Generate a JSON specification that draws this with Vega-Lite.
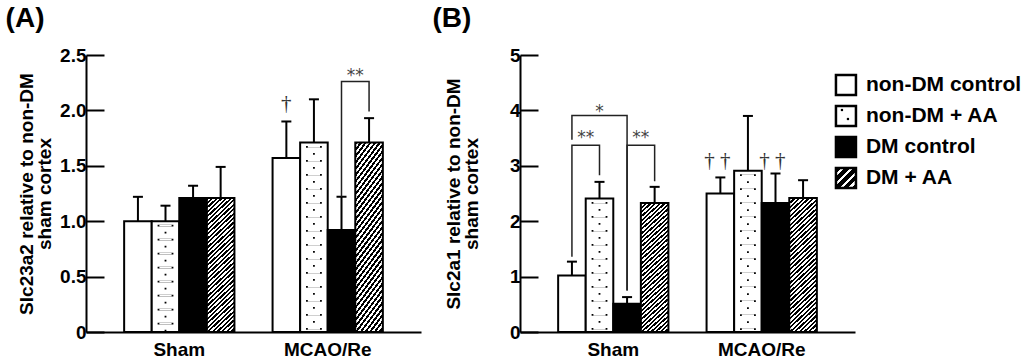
{
  "$schema": "https://vega.github.io/schema/vega-lite/v6.json",
  "background": "white",
  "padding": {"left": 5, "top": 5, "right": 5, "bottom": 0},
  "datasets": {
    "bars": [
      {"panel": "A", "group": "Sham", "series": "non-DM control", "mean": 1.0, "upper": 1.22},
      {"panel": "A", "group": "Sham", "series": "non-DM + AA", "mean": 1.0, "upper": 1.14},
      {"panel": "A", "group": "Sham", "series": "DM control", "mean": 1.21, "upper": 1.32},
      {"panel": "A", "group": "Sham", "series": "DM + AA", "mean": 1.21, "upper": 1.49},
      {"panel": "A", "group": "MCAO/Re", "series": "non-DM control", "mean": 1.57, "upper": 1.90},
      {"panel": "A", "group": "MCAO/Re", "series": "non-DM + AA", "mean": 1.71, "upper": 2.10},
      {"panel": "A", "group": "MCAO/Re", "series": "DM control", "mean": 0.92, "upper": 1.22},
      {"panel": "A", "group": "MCAO/Re", "series": "DM + AA", "mean": 1.71, "upper": 1.93},
      {"panel": "B", "group": "Sham", "series": "non-DM control", "mean": 1.02, "upper": 1.27},
      {"panel": "B", "group": "Sham", "series": "non-DM + AA", "mean": 2.41, "upper": 2.71},
      {"panel": "B", "group": "Sham", "series": "DM control", "mean": 0.51, "upper": 0.63},
      {"panel": "B", "group": "Sham", "series": "DM + AA", "mean": 2.33, "upper": 2.62},
      {"panel": "B", "group": "MCAO/Re", "series": "non-DM control", "mean": 2.50, "upper": 2.79},
      {"panel": "B", "group": "MCAO/Re", "series": "non-DM + AA", "mean": 2.91, "upper": 3.90},
      {"panel": "B", "group": "MCAO/Re", "series": "DM control", "mean": 2.33, "upper": 2.86},
      {"panel": "B", "group": "MCAO/Re", "series": "DM + AA", "mean": 2.42, "upper": 2.74}
    ],
    "brackets": [
      {"panel": "A", "id": "a1", "k": 1, "group": "MCAO/Re", "series": "DM control", "y": 1.22},
      {"panel": "A", "id": "a1", "k": 2, "group": "MCAO/Re", "series": "DM control", "y": 2.26},
      {"panel": "A", "id": "a1", "k": 3, "group": "MCAO/Re", "series": "DM + AA", "y": 2.26},
      {"panel": "A", "id": "a1", "k": 4, "group": "MCAO/Re", "series": "DM + AA", "y": 1.99},
      {"panel": "B", "id": "b1", "k": 1, "group": "Sham", "series": "non-DM control", "y": 1.36},
      {"panel": "B", "id": "b1", "k": 2, "group": "Sham", "series": "non-DM control", "y": 3.37},
      {"panel": "B", "id": "b1", "k": 3, "group": "Sham", "series": "non-DM + AA", "y": 3.37},
      {"panel": "B", "id": "b1", "k": 4, "group": "Sham", "series": "non-DM + AA", "y": 2.83},
      {"panel": "B", "id": "b2", "k": 1, "group": "Sham", "series": "non-DM control", "y": 3.47},
      {"panel": "B", "id": "b2", "k": 2, "group": "Sham", "series": "non-DM control", "y": 3.91},
      {"panel": "B", "id": "b2", "k": 3, "group": "Sham", "series": "DM control", "y": 3.91},
      {"panel": "B", "id": "b2", "k": 4, "group": "Sham", "series": "DM control", "y": 0.75},
      {"panel": "B", "id": "b3", "k": 1, "group": "Sham", "series": "DM control", "y": 0.75},
      {"panel": "B", "id": "b3", "k": 2, "group": "Sham", "series": "DM control", "y": 3.37},
      {"panel": "B", "id": "b3", "k": 3, "group": "Sham", "series": "DM + AA", "y": 3.37},
      {"panel": "B", "id": "b3", "k": 4, "group": "Sham", "series": "DM + AA", "y": 2.72}
    ],
    "notes": [
      {"panel": "A", "group": "MCAO/Re", "series": "non-DM control", "y": 2.0, "label": "†"},
      {"panel": "A", "group": "MCAO/Re", "series": "DM control", "y": 2.265, "label": "**"},
      {"panel": "B", "group": "Sham", "series": "non-DM control", "y": 3.41, "label": "**"},
      {"panel": "B", "group": "Sham", "series": "DM control", "y": 3.41, "label": "**"},
      {"panel": "B", "group": "Sham", "series": "non-DM + AA", "y": 3.88, "label": "*"},
      {"panel": "B", "group": "MCAO/Re", "series": "non-DM control", "y": 2.98, "label": "† †"},
      {"panel": "B", "group": "MCAO/Re", "series": "DM control", "y": 2.98, "label": "† †"}
    ],
    "legend": [
      {"series": "non-DM control"},
      {"series": "non-DM + AA"},
      {"series": "DM control"},
      {"series": "DM + AA"}
    ]
  },
  "config": {
    "view": {"stroke": null},
    "font": "Liberation Sans",
    "axis": {
      "domainColor": "black", "domainWidth": 2, "tickColor": "black", "tickWidth": 2,
      "labelColor": "black", "titleColor": "black", "labelFont": "Liberation Sans", "titleFont": "Liberation Sans",
      "labelFontWeight": "bold", "titleFontWeight": "bold", "labelFontSize": 19, "titleFontSize": 19, "grid": false
    },
    "axisY": {"tickSize": -18, "labelPadding": 18, "titlePadding": 5, "titleLineHeight": 18},
    "axisX": {"ticks": false, "labelPadding": 8, "labelAngle": 0}
  },
  "spacing": 11,
  "hconcat": [
    {
      "title": {"text": "(A)", "anchor": "start", "frame": "bounds", "fontSize": 28, "fontWeight": "bold", "font": "Liberation Sans", "color": "black", "dx": -12, "offset": 13},
      "width": 335,
      "height": 277,
      "encoding": {
        "x": {"field": "group", "type": "nominal", "scale": {"domain": ["Sham", "MCAO/Re"], "paddingInner": 0.257, "paddingOuter": 0.257}, "axis": {"title": null}},
        "xOffset": {"field": "series", "type": "nominal", "scale": {"domain": ["non-DM control", "non-DM + AA", "DM control", "DM + AA"], "paddingInner": 0, "paddingOuter": 0}}
      },
      "layer": [
        {
          "data": {"name": "bars"},
          "transform": [{"filter": "datum.panel == 'A' && (datum.series == 'non-DM control' || datum.series == 'non-DM + AA')"}],
          "mark": {"type": "bar", "stroke": "black", "strokeWidth": 2, "fill": "white"},
          "encoding": {
            "y": {"field": "mean", "type": "quantitative", "scale": {"domain": [0, 2.5], "nice": false},
                  "axis": {"title": ["Slc23a2 relative to non-DM", "sham cortex"], "values": [0, 0.5, 1, 1.5, 2, 2.5], "labelExpr": "datum.value == 0 ? '0' : format(datum.value, '.1f')"}}
          }
        },
        {
          "data": {"name": "bars"},
          "transform": [{"filter": "datum.panel == 'A' && datum.series == 'DM control'"}],
          "mark": {"type": "bar", "stroke": "black", "strokeWidth": 2, "fill": "black"},
          "encoding": {"y": {"field": "mean", "type": "quantitative"}}
        },
        {
          "data": {"name": "bars"},
          "transform": [{"filter": "datum.panel == 'A' && datum.series == 'DM + AA'"}],
          "mark": {"type": "bar", "stroke": "black", "strokeWidth": 2,
            "fill": {"gradient": "linear", "x1": 0, "y1": 0, "x2": 0.226, "y2": 1.152, "stops": [
{"offset":0,"color":"#000"},
{"offset":0.0139,"color":"#000"},{"offset":0.0139,"color":"#fff"},
{"offset":0.0278,"color":"#fff"},{"offset":0.0278,"color":"#000"},
{"offset":0.0417,"color":"#000"},{"offset":0.0417,"color":"#fff"},
{"offset":0.0556,"color":"#fff"},{"offset":0.0556,"color":"#000"},
{"offset":0.0694,"color":"#000"},{"offset":0.0694,"color":"#fff"},
{"offset":0.0833,"color":"#fff"},{"offset":0.0833,"color":"#000"},
{"offset":0.0972,"color":"#000"},{"offset":0.0972,"color":"#fff"},
{"offset":0.1111,"color":"#fff"},{"offset":0.1111,"color":"#000"},
{"offset":0.125,"color":"#000"},{"offset":0.125,"color":"#fff"},
{"offset":0.1389,"color":"#fff"},{"offset":0.1389,"color":"#000"},
{"offset":0.1528,"color":"#000"},{"offset":0.1528,"color":"#fff"},
{"offset":0.1667,"color":"#fff"},{"offset":0.1667,"color":"#000"},
{"offset":0.1806,"color":"#000"},{"offset":0.1806,"color":"#fff"},
{"offset":0.1944,"color":"#fff"},{"offset":0.1944,"color":"#000"},
{"offset":0.2083,"color":"#000"},{"offset":0.2083,"color":"#fff"},
{"offset":0.2222,"color":"#fff"},{"offset":0.2222,"color":"#000"},
{"offset":0.2361,"color":"#000"},{"offset":0.2361,"color":"#fff"},
{"offset":0.25,"color":"#fff"},{"offset":0.25,"color":"#000"},
{"offset":0.2639,"color":"#000"},{"offset":0.2639,"color":"#fff"},
{"offset":0.2778,"color":"#fff"},{"offset":0.2778,"color":"#000"},
{"offset":0.2917,"color":"#000"},{"offset":0.2917,"color":"#fff"},
{"offset":0.3056,"color":"#fff"},{"offset":0.3056,"color":"#000"},
{"offset":0.3194,"color":"#000"},{"offset":0.3194,"color":"#fff"},
{"offset":0.3333,"color":"#fff"},{"offset":0.3333,"color":"#000"},
{"offset":0.3472,"color":"#000"},{"offset":0.3472,"color":"#fff"},
{"offset":0.3611,"color":"#fff"},{"offset":0.3611,"color":"#000"},
{"offset":0.375,"color":"#000"},{"offset":0.375,"color":"#fff"},
{"offset":0.3889,"color":"#fff"},{"offset":0.3889,"color":"#000"},
{"offset":0.4028,"color":"#000"},{"offset":0.4028,"color":"#fff"},
{"offset":0.4167,"color":"#fff"},{"offset":0.4167,"color":"#000"},
{"offset":0.4306,"color":"#000"},{"offset":0.4306,"color":"#fff"},
{"offset":0.4444,"color":"#fff"},{"offset":0.4444,"color":"#000"},
{"offset":0.4583,"color":"#000"},{"offset":0.4583,"color":"#fff"},
{"offset":0.4722,"color":"#fff"},{"offset":0.4722,"color":"#000"},
{"offset":0.4861,"color":"#000"},{"offset":0.4861,"color":"#fff"},
{"offset":0.5,"color":"#fff"},{"offset":0.5,"color":"#000"},
{"offset":0.5139,"color":"#000"},{"offset":0.5139,"color":"#fff"},
{"offset":0.5278,"color":"#fff"},{"offset":0.5278,"color":"#000"},
{"offset":0.5417,"color":"#000"},{"offset":0.5417,"color":"#fff"},
{"offset":0.5556,"color":"#fff"},{"offset":0.5556,"color":"#000"},
{"offset":0.5694,"color":"#000"},{"offset":0.5694,"color":"#fff"},
{"offset":0.5833,"color":"#fff"},{"offset":0.5833,"color":"#000"},
{"offset":0.5972,"color":"#000"},{"offset":0.5972,"color":"#fff"},
{"offset":0.6111,"color":"#fff"},{"offset":0.6111,"color":"#000"},
{"offset":0.625,"color":"#000"},{"offset":0.625,"color":"#fff"},
{"offset":0.6389,"color":"#fff"},{"offset":0.6389,"color":"#000"},
{"offset":0.6528,"color":"#000"},{"offset":0.6528,"color":"#fff"},
{"offset":0.6667,"color":"#fff"},{"offset":0.6667,"color":"#000"},
{"offset":0.6806,"color":"#000"},{"offset":0.6806,"color":"#fff"},
{"offset":0.6944,"color":"#fff"},{"offset":0.6944,"color":"#000"},
{"offset":0.7083,"color":"#000"},{"offset":0.7083,"color":"#fff"},
{"offset":0.7222,"color":"#fff"},{"offset":0.7222,"color":"#000"},
{"offset":0.7361,"color":"#000"},{"offset":0.7361,"color":"#fff"},
{"offset":0.75,"color":"#fff"},{"offset":0.75,"color":"#000"},
{"offset":0.7639,"color":"#000"},{"offset":0.7639,"color":"#fff"},
{"offset":0.7778,"color":"#fff"},{"offset":0.7778,"color":"#000"},
{"offset":0.7917,"color":"#000"},{"offset":0.7917,"color":"#fff"},
{"offset":0.8056,"color":"#fff"},{"offset":0.8056,"color":"#000"},
{"offset":0.8194,"color":"#000"},{"offset":0.8194,"color":"#fff"},
{"offset":0.8333,"color":"#fff"},{"offset":0.8333,"color":"#000"},
{"offset":0.8472,"color":"#000"},{"offset":0.8472,"color":"#fff"},
{"offset":0.8611,"color":"#fff"},{"offset":0.8611,"color":"#000"},
{"offset":0.875,"color":"#000"},{"offset":0.875,"color":"#fff"},
{"offset":0.8889,"color":"#fff"},{"offset":0.8889,"color":"#000"},
{"offset":0.9028,"color":"#000"},{"offset":0.9028,"color":"#fff"},
{"offset":0.9167,"color":"#fff"},{"offset":0.9167,"color":"#000"},
{"offset":0.9306,"color":"#000"},{"offset":0.9306,"color":"#fff"},
{"offset":0.9444,"color":"#fff"},{"offset":0.9444,"color":"#000"},
{"offset":0.9583,"color":"#000"},{"offset":0.9583,"color":"#fff"},
{"offset":0.9722,"color":"#fff"},{"offset":0.9722,"color":"#000"},
{"offset":0.9861,"color":"#000"},{"offset":0.9861,"color":"#fff"},
{"offset":1,"color":"#fff"}]}},
          "encoding": {"y": {"field": "mean", "type": "quantitative"}}
        },
        {
          "data": {"name": "bars"},
          "transform": [{"filter": "datum.panel == 'A' && datum.series == 'non-DM + AA'"}],
          "mark": {"type": "rule", "color": "black", "strokeWidth": 15.8, "strokeDash": [1.8, 12.2], "strokeDashOffset": 10.5},
          "encoding": {"y": {"field": "mean", "type": "quantitative"}, "y2": {"datum": 0}}
        },
        {
          "data": {"name": "bars"},
          "transform": [{"filter": "datum.panel == 'A' && datum.series == 'non-DM + AA'"}],
          "mark": {"type": "rule", "color": "white", "strokeWidth": 12.2, "strokeDash": [1.8, 12.2], "strokeDashOffset": 10.5},
          "encoding": {"y": {"field": "mean", "type": "quantitative"}, "y2": {"datum": 0}}
        },
        {
          "data": {"name": "bars"},
          "transform": [{"filter": "datum.panel == 'A' && datum.series == 'non-DM + AA'"}],
          "mark": {"type": "rule", "color": "black", "strokeWidth": 1.8, "strokeDash": [1.8, 12.2], "strokeDashOffset": 3.5},
          "encoding": {"y": {"field": "mean", "type": "quantitative"}, "y2": {"datum": 0}}
        },
        {
          "data": {"name": "bars"},
          "transform": [{"filter": "datum.panel == 'A'"}],
          "mark": {"type": "rule", "color": "black", "strokeWidth": 2},
          "encoding": {"y": {"field": "mean", "type": "quantitative"}, "y2": {"field": "upper"}}
        },
        {
          "data": {"name": "bars"},
          "transform": [{"filter": "datum.panel == 'A'"}],
          "mark": {"type": "tick", "color": "black", "thickness": 2, "size": 10, "orient": "horizontal", "opacity": 1},
          "encoding": {"y": {"field": "upper", "type": "quantitative"}}
        },
        {
          "data": {"name": "brackets"},
          "transform": [{"filter": "datum.panel == 'A'"}],
          "mark": {"type": "line", "color": "#222", "strokeWidth": 1.5, "interpolate": "linear"},
          "encoding": {"y": {"field": "y", "type": "quantitative"}, "order": {"field": "k"}, "detail": {"field": "id"}}
        },
        {
          "data": {"name": "notes"},
          "transform": [{"filter": "datum.panel == 'A' && datum.label == '**'"}],
          "mark": {"type": "text", "font": "DejaVu Sans", "fontSize": 17, "color": "#444", "baseline": "alphabetic", "dx": 13.8},
          "encoding": {"y": {"field": "y", "type": "quantitative"}, "text": {"field": "label"}}
        },
        {
          "data": {"name": "notes"},
          "transform": [{"filter": "datum.panel == 'A' && indexof(datum.label, '†') >= 0"}],
          "mark": {"type": "text", "font": "Liberation Serif", "fontSize": 21, "color": "#333", "baseline": "alphabetic"},
          "encoding": {"y": {"field": "y", "type": "quantitative"}, "text": {"field": "label"}}
        }
      ]
    },
    {
      "title": {"text": "(B)", "anchor": "start", "frame": "bounds", "fontSize": 28, "fontWeight": "bold", "font": "Liberation Sans", "color": "black", "dx": -12, "offset": 13},
      "width": 335,
      "height": 277,
      "resolve": {"scale": {"x": "independent", "y": "independent"}},
      "layer": [
        {
          "encoding": {
            "x": {"field": "group", "type": "nominal", "scale": {"domain": ["Sham", "MCAO/Re"], "paddingInner": 0.257, "paddingOuter": 0.257}, "axis": {"title": null}},
            "xOffset": {"field": "series", "type": "nominal", "scale": {"domain": ["non-DM control", "non-DM + AA", "DM control", "DM + AA"], "paddingInner": 0, "paddingOuter": 0}}
          },
          "layer": [
            {
              "data": {"name": "bars"},
              "transform": [{"filter": "datum.panel == 'B' && (datum.series == 'non-DM control' || datum.series == 'non-DM + AA')"}],
              "mark": {"type": "bar", "stroke": "black", "strokeWidth": 2, "fill": "white"},
              "encoding": {
                "y": {"field": "mean", "type": "quantitative", "scale": {"domain": [0, 5], "nice": false},
                      "axis": {"title": ["Slc2a1 relative to non-DM", "sham cortex"], "values": [0, 1, 2, 3, 4, 5], "format": "d", "titlePadding": 28}}
              }
            },
            {
              "data": {"name": "bars"},
              "transform": [{"filter": "datum.panel == 'B' && datum.series == 'DM control'"}],
              "mark": {"type": "bar", "stroke": "black", "strokeWidth": 2, "fill": "black"},
              "encoding": {"y": {"field": "mean", "type": "quantitative"}}
            },
            {
              "data": {"name": "bars"},
              "transform": [{"filter": "datum.panel == 'B' && datum.series == 'DM + AA'"}],
              "mark": {"type": "bar", "stroke": "black", "strokeWidth": 2,
                "fill": {"gradient": "linear", "x1": 0, "y1": 0, "x2": 0.226, "y2": 1.152, "stops": [
{"offset":0,"color":"#000"},
{"offset":0.0139,"color":"#000"},{"offset":0.0139,"color":"#fff"},
{"offset":0.0278,"color":"#fff"},{"offset":0.0278,"color":"#000"},
{"offset":0.0417,"color":"#000"},{"offset":0.0417,"color":"#fff"},
{"offset":0.0556,"color":"#fff"},{"offset":0.0556,"color":"#000"},
{"offset":0.0694,"color":"#000"},{"offset":0.0694,"color":"#fff"},
{"offset":0.0833,"color":"#fff"},{"offset":0.0833,"color":"#000"},
{"offset":0.0972,"color":"#000"},{"offset":0.0972,"color":"#fff"},
{"offset":0.1111,"color":"#fff"},{"offset":0.1111,"color":"#000"},
{"offset":0.125,"color":"#000"},{"offset":0.125,"color":"#fff"},
{"offset":0.1389,"color":"#fff"},{"offset":0.1389,"color":"#000"},
{"offset":0.1528,"color":"#000"},{"offset":0.1528,"color":"#fff"},
{"offset":0.1667,"color":"#fff"},{"offset":0.1667,"color":"#000"},
{"offset":0.1806,"color":"#000"},{"offset":0.1806,"color":"#fff"},
{"offset":0.1944,"color":"#fff"},{"offset":0.1944,"color":"#000"},
{"offset":0.2083,"color":"#000"},{"offset":0.2083,"color":"#fff"},
{"offset":0.2222,"color":"#fff"},{"offset":0.2222,"color":"#000"},
{"offset":0.2361,"color":"#000"},{"offset":0.2361,"color":"#fff"},
{"offset":0.25,"color":"#fff"},{"offset":0.25,"color":"#000"},
{"offset":0.2639,"color":"#000"},{"offset":0.2639,"color":"#fff"},
{"offset":0.2778,"color":"#fff"},{"offset":0.2778,"color":"#000"},
{"offset":0.2917,"color":"#000"},{"offset":0.2917,"color":"#fff"},
{"offset":0.3056,"color":"#fff"},{"offset":0.3056,"color":"#000"},
{"offset":0.3194,"color":"#000"},{"offset":0.3194,"color":"#fff"},
{"offset":0.3333,"color":"#fff"},{"offset":0.3333,"color":"#000"},
{"offset":0.3472,"color":"#000"},{"offset":0.3472,"color":"#fff"},
{"offset":0.3611,"color":"#fff"},{"offset":0.3611,"color":"#000"},
{"offset":0.375,"color":"#000"},{"offset":0.375,"color":"#fff"},
{"offset":0.3889,"color":"#fff"},{"offset":0.3889,"color":"#000"},
{"offset":0.4028,"color":"#000"},{"offset":0.4028,"color":"#fff"},
{"offset":0.4167,"color":"#fff"},{"offset":0.4167,"color":"#000"},
{"offset":0.4306,"color":"#000"},{"offset":0.4306,"color":"#fff"},
{"offset":0.4444,"color":"#fff"},{"offset":0.4444,"color":"#000"},
{"offset":0.4583,"color":"#000"},{"offset":0.4583,"color":"#fff"},
{"offset":0.4722,"color":"#fff"},{"offset":0.4722,"color":"#000"},
{"offset":0.4861,"color":"#000"},{"offset":0.4861,"color":"#fff"},
{"offset":0.5,"color":"#fff"},{"offset":0.5,"color":"#000"},
{"offset":0.5139,"color":"#000"},{"offset":0.5139,"color":"#fff"},
{"offset":0.5278,"color":"#fff"},{"offset":0.5278,"color":"#000"},
{"offset":0.5417,"color":"#000"},{"offset":0.5417,"color":"#fff"},
{"offset":0.5556,"color":"#fff"},{"offset":0.5556,"color":"#000"},
{"offset":0.5694,"color":"#000"},{"offset":0.5694,"color":"#fff"},
{"offset":0.5833,"color":"#fff"},{"offset":0.5833,"color":"#000"},
{"offset":0.5972,"color":"#000"},{"offset":0.5972,"color":"#fff"},
{"offset":0.6111,"color":"#fff"},{"offset":0.6111,"color":"#000"},
{"offset":0.625,"color":"#000"},{"offset":0.625,"color":"#fff"},
{"offset":0.6389,"color":"#fff"},{"offset":0.6389,"color":"#000"},
{"offset":0.6528,"color":"#000"},{"offset":0.6528,"color":"#fff"},
{"offset":0.6667,"color":"#fff"},{"offset":0.6667,"color":"#000"},
{"offset":0.6806,"color":"#000"},{"offset":0.6806,"color":"#fff"},
{"offset":0.6944,"color":"#fff"},{"offset":0.6944,"color":"#000"},
{"offset":0.7083,"color":"#000"},{"offset":0.7083,"color":"#fff"},
{"offset":0.7222,"color":"#fff"},{"offset":0.7222,"color":"#000"},
{"offset":0.7361,"color":"#000"},{"offset":0.7361,"color":"#fff"},
{"offset":0.75,"color":"#fff"},{"offset":0.75,"color":"#000"},
{"offset":0.7639,"color":"#000"},{"offset":0.7639,"color":"#fff"},
{"offset":0.7778,"color":"#fff"},{"offset":0.7778,"color":"#000"},
{"offset":0.7917,"color":"#000"},{"offset":0.7917,"color":"#fff"},
{"offset":0.8056,"color":"#fff"},{"offset":0.8056,"color":"#000"},
{"offset":0.8194,"color":"#000"},{"offset":0.8194,"color":"#fff"},
{"offset":0.8333,"color":"#fff"},{"offset":0.8333,"color":"#000"},
{"offset":0.8472,"color":"#000"},{"offset":0.8472,"color":"#fff"},
{"offset":0.8611,"color":"#fff"},{"offset":0.8611,"color":"#000"},
{"offset":0.875,"color":"#000"},{"offset":0.875,"color":"#fff"},
{"offset":0.8889,"color":"#fff"},{"offset":0.8889,"color":"#000"},
{"offset":0.9028,"color":"#000"},{"offset":0.9028,"color":"#fff"},
{"offset":0.9167,"color":"#fff"},{"offset":0.9167,"color":"#000"},
{"offset":0.9306,"color":"#000"},{"offset":0.9306,"color":"#fff"},
{"offset":0.9444,"color":"#fff"},{"offset":0.9444,"color":"#000"},
{"offset":0.9583,"color":"#000"},{"offset":0.9583,"color":"#fff"},
{"offset":0.9722,"color":"#fff"},{"offset":0.9722,"color":"#000"},
{"offset":0.9861,"color":"#000"},{"offset":0.9861,"color":"#fff"},
{"offset":1,"color":"#fff"}]}},
              "encoding": {"y": {"field": "mean", "type": "quantitative"}}
            },
            {
              "data": {"name": "bars"},
              "transform": [{"filter": "datum.panel == 'B' && datum.series == 'non-DM + AA'"}],
              "mark": {"type": "rule", "color": "black", "strokeWidth": 15.8, "strokeDash": [1.8, 12.2], "strokeDashOffset": 10.5},
              "encoding": {"y": {"field": "mean", "type": "quantitative"}, "y2": {"datum": 0}}
            },
            {
              "data": {"name": "bars"},
              "transform": [{"filter": "datum.panel == 'B' && datum.series == 'non-DM + AA'"}],
              "mark": {"type": "rule", "color": "white", "strokeWidth": 12.2, "strokeDash": [1.8, 12.2], "strokeDashOffset": 10.5},
              "encoding": {"y": {"field": "mean", "type": "quantitative"}, "y2": {"datum": 0}}
            },
            {
              "data": {"name": "bars"},
              "transform": [{"filter": "datum.panel == 'B' && datum.series == 'non-DM + AA'"}],
              "mark": {"type": "rule", "color": "black", "strokeWidth": 1.8, "strokeDash": [1.8, 12.2], "strokeDashOffset": 3.5},
              "encoding": {"y": {"field": "mean", "type": "quantitative"}, "y2": {"datum": 0}}
            },
            {
              "data": {"name": "bars"},
              "transform": [{"filter": "datum.panel == 'B'"}],
              "mark": {"type": "rule", "color": "black", "strokeWidth": 2},
              "encoding": {"y": {"field": "mean", "type": "quantitative"}, "y2": {"field": "upper"}}
            },
            {
              "data": {"name": "bars"},
              "transform": [{"filter": "datum.panel == 'B'"}],
              "mark": {"type": "tick", "color": "black", "thickness": 2, "size": 10, "orient": "horizontal", "opacity": 1},
              "encoding": {"y": {"field": "upper", "type": "quantitative"}}
            },
            {
              "data": {"name": "brackets"},
              "transform": [{"filter": "datum.panel == 'B'"}],
              "mark": {"type": "line", "color": "#222", "strokeWidth": 1.5},
              "encoding": {"y": {"field": "y", "type": "quantitative"}, "order": {"field": "k"}, "detail": {"field": "id"}}
            },
            {
              "data": {"name": "notes"},
              "transform": [{"filter": "datum.panel == 'B' && datum.label == '**'"}],
              "mark": {"type": "text", "font": "DejaVu Sans", "fontSize": 17, "color": "#444", "baseline": "alphabetic", "dx": 13.8},
              "encoding": {"y": {"field": "y", "type": "quantitative"}, "text": {"field": "label"}}
            },
            {
              "data": {"name": "notes"},
              "transform": [{"filter": "datum.panel == 'B' && datum.label == '*'"}],
              "mark": {"type": "text", "font": "DejaVu Sans", "fontSize": 17, "color": "#444", "baseline": "alphabetic"},
              "encoding": {"y": {"field": "y", "type": "quantitative"}, "text": {"field": "label"}}
            },
            {
              "data": {"name": "notes"},
              "transform": [{"filter": "datum.panel == 'B' && indexof(datum.label, '†') >= 0"}],
              "mark": {"type": "text", "font": "Liberation Serif", "fontSize": 21, "color": "#333", "baseline": "alphabetic", "dx": -3},
              "encoding": {"y": {"field": "y", "type": "quantitative"}, "text": {"field": "label"}}
            }
          ]
        },
        {
          "data": {"name": "legend"},
          "encoding": {
            "x": {"datum": "legend", "type": "nominal", "scale": {"type": "point", "domain": ["legend"], "padding": 0, "align": 0.973}, "axis": null},
            "y": {"field": "series", "type": "nominal", "scale": {"type": "band", "domain": ["non-DM control", "non-DM + AA", "DM control", "DM + AA"], "range": [14.5, 138.5], "paddingInner": 0, "paddingOuter": 0}, "axis": null}
          },
          "layer": [
            {
              "transform": [{"filter": "datum.series == 'non-DM control' || datum.series == 'non-DM + AA'"}],
              "mark": {"type": "point", "shape": "square", "size": 400, "stroke": "black", "strokeWidth": 2.5, "fill": "white", "filled": true, "opacity": 1}
            },
            {
              "transform": [{"filter": "datum.series == 'DM control'"}],
              "mark": {"type": "point", "shape": "square", "size": 400, "stroke": "black", "strokeWidth": 2.5, "fill": "black", "filled": true, "opacity": 1}
            },
            {
              "transform": [{"filter": "datum.series == 'DM + AA'"}],
              "mark": {"type": "point", "shape": "square", "size": 400, "stroke": "black", "strokeWidth": 2.5, "opacity": 1, "filled": true,
                "fill": {"gradient": "linear", "x1": 0, "y1": 0, "x2": 1, "y2": 1, "stops": [
                  {"offset": 0, "color": "#000"}, {"offset": 0.14, "color": "#000"}, {"offset": 0.14, "color": "#fff"},
                  {"offset": 0.22, "color": "#fff"}, {"offset": 0.22, "color": "#000"}, {"offset": 0.36, "color": "#000"},
                  {"offset": 0.36, "color": "#fff"}, {"offset": 0.44, "color": "#fff"}, {"offset": 0.44, "color": "#000"},
                  {"offset": 0.58, "color": "#000"}, {"offset": 0.58, "color": "#fff"}, {"offset": 0.66, "color": "#fff"},
                  {"offset": 0.66, "color": "#000"}, {"offset": 0.8, "color": "#000"}, {"offset": 0.8, "color": "#fff"},
                  {"offset": 0.88, "color": "#fff"}, {"offset": 0.88, "color": "#000"}, {"offset": 1, "color": "#000"}]}}
            },
            {
              "transform": [{"filter": "datum.series == 'non-DM + AA'"}],
              "mark": {"type": "point", "shape": "square", "size": 5, "filled": true, "color": "black", "opacity": 1, "xOffset": -4, "yOffset": -6}
            },
            {
              "transform": [{"filter": "datum.series == 'non-DM + AA'"}],
              "mark": {"type": "point", "shape": "square", "size": 5, "filled": true, "color": "black", "opacity": 1, "xOffset": 2, "yOffset": 3}
            },
            {
              "mark": {"type": "text", "align": "left", "baseline": "middle", "dx": 20, "font": "Liberation Sans", "fontSize": 21, "fontWeight": "bold", "color": "black"},
              "encoding": {"text": {"field": "series"}}
            }
          ]
        }
      ]
    }
  ]
}
